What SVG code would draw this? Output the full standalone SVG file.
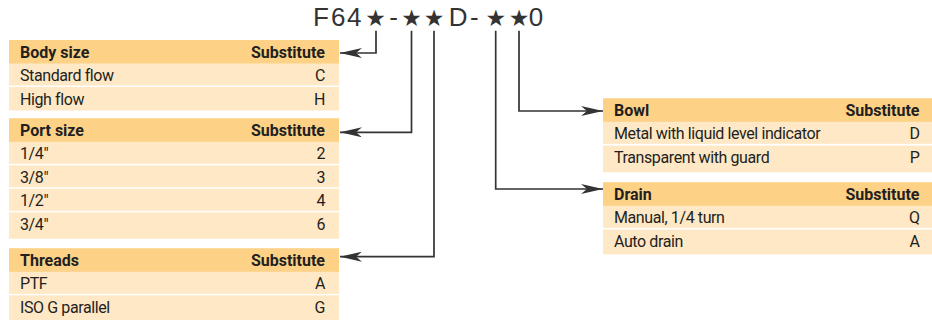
<svg xmlns="http://www.w3.org/2000/svg" width="932" height="320" viewBox="0 0 932 320">
  <defs>
    <style>
      .bg { fill: #FEE8C6; }
      .hd { fill: #FDD287; }
      .sep { fill: #FFFFFF; }
      .h { font-family: Roboto, "Liberation Sans", sans-serif; font-weight: bold; font-size: 16px; fill: #231F20; }
      .t { font-family: Roboto, "Liberation Sans", sans-serif; font-size: 16px; letter-spacing: -0.4px; fill: #231F20; }
      .r { text-anchor: end; }
      .code { font-family: "Liberation Sans", Arial, sans-serif; font-size: 26px; fill: #333333; text-anchor: middle; }
      .star { font-family: "DejaVu Sans", sans-serif; font-size: 23px; }
      .conn { fill: none; stroke: #333333; stroke-width: 1.7; }
    </style>
    <marker id="arr" markerUnits="userSpaceOnUse" viewBox="0 0 22 10" refX="22" refY="5" markerWidth="22" markerHeight="10" orient="auto">
      <path d="M22,5 L0,0 L6,5 L0,10 Z" fill="#333333"/>
    </marker>
  </defs>

  <rect width="932" height="320" fill="#FFFFFF"/>

  <g id="code">
    <text class="code" y="26">
      <tspan x="321">F</tspan><tspan x="338.3">6</tspan><tspan x="354.2">4</tspan><tspan x="375.5" class="star">★</tspan><tspan x="393.7">-</tspan><tspan x="411.5" class="star">★</tspan><tspan x="434" class="star">★</tspan><tspan x="458.2">D</tspan><tspan x="474.3">-</tspan><tspan x="495.7" class="star">★</tspan><tspan x="519" class="star">★</tspan><tspan x="536">0</tspan>
    </text>
  </g>

  <g id="body-size">
    <rect class="bg" x="9" y="40" width="330" height="70.5"/>
    <rect class="hd" x="9" y="40" width="330" height="23.5"/>
    <rect class="sep" x="9" y="85.5" width="330" height="1.5"/>
    <text class="h" x="20" y="57.5">Body size</text>
    <text class="h r" x="325" y="57.5">Substitute</text>
    <text class="t" x="20" y="81">Standard flow</text>
    <text class="t r" x="325" y="81">C</text>
    <text class="t" x="20" y="104.5">High flow</text>
    <text class="t r" x="325" y="104.5">H</text>
  </g>

  <g id="port-size">
    <rect class="bg" x="9" y="118.3" width="330" height="120.4"/>
    <rect class="hd" x="9" y="118.3" width="330" height="23.5"/>
    <rect class="sep" x="9" y="163.8" width="330" height="1.5"/>
    <rect class="sep" x="9" y="187.3" width="330" height="1.5"/>
    <rect class="sep" x="9" y="210.8" width="330" height="1.5"/>
    <text class="h" x="20" y="135.8">Port size</text>
    <text class="h r" x="325" y="135.8">Substitute</text>
    <text class="t" x="20" y="159.3">1/4"</text>
    <text class="t r" x="325" y="159.3">2</text>
    <text class="t" x="20" y="182.8">3/8"</text>
    <text class="t r" x="325" y="182.8">3</text>
    <text class="t" x="20" y="206.3">1/2"</text>
    <text class="t r" x="325" y="206.3">4</text>
    <text class="t" x="20" y="229.8">3/4"</text>
    <text class="t r" x="325" y="229.8">6</text>
  </g>

  <g id="threads">
    <rect class="bg" x="9" y="248.3" width="330" height="72"/>
    <rect class="hd" x="9" y="248.3" width="330" height="23.5"/>
    <rect class="sep" x="9" y="293.8" width="330" height="1.5"/>
    <text class="h" x="20" y="265.8">Threads</text>
    <text class="h r" x="325" y="265.8">Substitute</text>
    <text class="t" x="20" y="289.3">PTF</text>
    <text class="t r" x="325" y="289.3">A</text>
    <text class="t" x="20" y="312.8">ISO G parallel</text>
    <text class="t r" x="325" y="312.8">G</text>
  </g>

  <g id="bowl">
    <rect class="bg" x="603" y="98.3" width="329" height="74"/>
    <rect class="hd" x="603" y="98.3" width="329" height="23.5"/>
    <rect class="sep" x="603" y="143.8" width="329" height="1.8"/>
    <text class="h" x="614" y="115.8">Bowl</text>
    <text class="h r" x="919.5" y="115.8">Substitute</text>
    <text class="t" x="614" y="139.3">Metal with liquid level indicator</text>
    <text class="t r" x="919.5" y="139.3">D</text>
    <text class="t" x="614" y="162.8">Transparent with guard</text>
    <text class="t r" x="919.5" y="162.8">P</text>
  </g>

  <g id="drain">
    <rect class="bg" x="603" y="182.3" width="329" height="72"/>
    <rect class="hd" x="603" y="182.3" width="329" height="23.5"/>
    <rect class="sep" x="603" y="227.8" width="329" height="1.8"/>
    <text class="h" x="614" y="199.8">Drain</text>
    <text class="h r" x="919.5" y="199.8">Substitute</text>
    <text class="t" x="614" y="223.3">Manual, 1/4 turn</text>
    <text class="t r" x="919.5" y="223.3">Q</text>
    <text class="t" x="614" y="246.8">Auto drain</text>
    <text class="t r" x="919.5" y="246.8">A</text>
  </g>

  <g id="connectors">
    <path class="conn" d="M376,30.7 V53 H340" marker-end="url(#arr)"/>
    <path class="conn" d="M411.5,30.7 V132.3 H340" marker-end="url(#arr)"/>
    <path class="conn" d="M434,30.7 V256.7 H340" marker-end="url(#arr)"/>
    <path class="conn" d="M519,30.7 V111 H603" marker-end="url(#arr)"/>
    <path class="conn" d="M495.7,30.7 V189 H603" marker-end="url(#arr)"/>
  </g>
</svg>
